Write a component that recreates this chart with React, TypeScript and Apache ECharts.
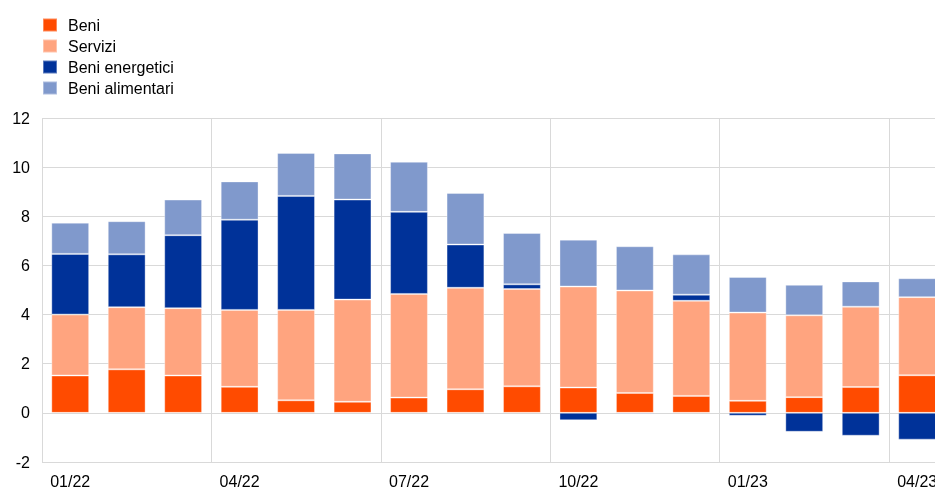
import React, { useEffect, useRef } from "react";
import * as echarts from "echarts";

const categories = ["01/22","02/22","03/22","04/22","05/22","06/22","07/22","08/22","09/22","10/22","11/22","12/22","01/23","02/23","03/23","04/23"];
const beni = [1.52, 1.77, 1.52, 1.06, 0.51, 0.45, 0.62, 0.96, 1.08, 1.03, 0.81, 0.69, 0.49, 0.64, 1.05, 1.53];
const servizi = [2.48, 2.53, 2.74, 3.13, 3.68, 4.16, 4.22, 4.13, 3.96, 4.11, 4.17, 3.87, 3.59, 3.33, 3.27, 3.18];
const beniEnergetici = [2.47, 2.15, 2.97, 3.67, 4.64, 4.07, 3.34, 1.76, 0.19, -0.30, -0.05, 0.25, -0.12, -0.77, -0.93, -1.09];
const beniAlimentari = [1.27, 1.35, 1.45, 1.56, 1.75, 1.88, 2.04, 2.10, 2.09, 1.91, 1.80, 1.64, 1.45, 1.24, 1.03, 0.77];

const FONT = "Liberation Sans, Arial, sans-serif";

export default function App() {
  const ref = useRef<HTMLDivElement>(null);
  useEffect(() => {
    if (!ref.current) return;
    const chart = echarts.init(ref.current, undefined, { renderer: "svg" });
    const mk = (name: string, data: number[], color: string) => ({
      name,
      type: "bar",
      stack: "total",
      data,
      barWidth: "67%",
      itemStyle: { color, borderColor: "rgba(255,255,255,0.35)", borderWidth: 1 },
    });
    chart.setOption({
      animation: false,
      textStyle: { fontFamily: FONT },
      legend: {
        orient: "vertical",
        left: 42,
        top: 17,
        padding: 0,
        itemWidth: 14,
        itemHeight: 13,
        itemGap: 5,
        icon: "rect",
        textStyle: { fontSize: 16, color: "#000", fontFamily: FONT, padding: [0, 0, 0, 6] },
        data: ["Beni", "Servizi", "Beni energetici", "Beni alimentari"],
      },
      grid: { left: 42, top: 118, width: 903.4, height: 344, containLabel: false },
      xAxis: {
        type: "category",
        data: categories,
        boundaryGap: true,
        axisLine: { show: false },
        axisTick: { show: false },
        axisLabel: { interval: 2, fontSize: 16, color: "#000", margin: 11, fontFamily: FONT },
        splitLine: { show: true, interval: 2, lineStyle: { color: "#d9d9d9", width: 1 } },
      },
      yAxis: {
        type: "value",
        min: -2,
        max: 12,
        interval: 2,
        axisLine: { show: false },
        axisTick: { show: false },
        axisLabel: { fontSize: 16, color: "#000", margin: 12, fontFamily: FONT },
        splitLine: { show: true, lineStyle: { color: "#d9d9d9", width: 1 } },
      },
      series: [
        mk("Beni", beni, "#FF4B00"),
        mk("Servizi", servizi, "#FFA47F"),
        mk("Beni energetici", beniEnergetici, "#003299"),
        mk("Beni alimentari", beniAlimentari, "#8099CC"),
      ],
    });
    return () => chart.dispose();
  }, []);
  return (
    <div style={{ position: "fixed", left: 0, top: 0, width: 935, height: 489, overflow: "hidden" }}>
      <div ref={ref} style={{ width: 960, height: 489 }} />
    </div>
  );
}
